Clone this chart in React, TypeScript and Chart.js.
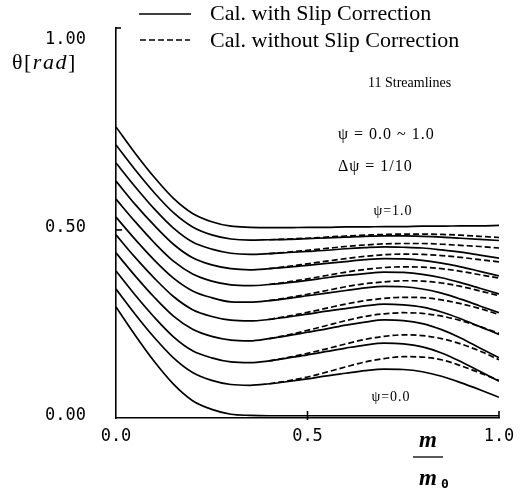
import { useEffect, useRef } from "react";
import { Chart, registerables } from "chart.js";

Chart.register(...registerables);

// Normalised mass coordinate m/m0 along the channel
const MASS_RATIO = [
  0, 0.05, 0.1, 0.15, 0.2, 0.25, 0.3, 0.35, 0.4, 0.45, 0.5, 0.55, 0.6, 0.65, 0.7, 0.75, 0.8, 0.85, 0.9,
  0.95, 1.0,
];

// Flow angle θ [rad] per streamline, calculated with slip correction
const THETA_SLIP_PSI_00 = [0.295, 0.22, 0.15, 0.09, 0.046, 0.023, 0.01, 0.007, 0.006, 0.006, 0.006, 0.006, 0.006, 0.006, 0.006, 0.006, 0.006, 0.006, 0.006, 0.006, 0.006];
const THETA_SLIP_PSI_01 = [0.343, 0.276, 0.214, 0.16, 0.121, 0.1, 0.089, 0.087, 0.091, 0.097, 0.104, 0.112, 0.119, 0.126, 0.13, 0.129, 0.123, 0.111, 0.094, 0.075, 0.055];
const THETA_SLIP_PSI_02 = [0.391, 0.327, 0.268, 0.216, 0.179, 0.16, 0.149, 0.147, 0.152, 0.16, 0.168, 0.177, 0.186, 0.194, 0.199, 0.197, 0.189, 0.173, 0.15, 0.124, 0.098];
const THETA_SLIP_PSI_03 = [0.439, 0.378, 0.321, 0.271, 0.236, 0.217, 0.207, 0.205, 0.211, 0.219, 0.228, 0.237, 0.247, 0.255, 0.261, 0.259, 0.251, 0.235, 0.213, 0.186, 0.16];
const THETA_SLIP_PSI_04 = [0.487, 0.427, 0.372, 0.323, 0.288, 0.27, 0.26, 0.258, 0.262, 0.269, 0.276, 0.284, 0.291, 0.298, 0.303, 0.301, 0.295, 0.282, 0.264, 0.243, 0.222];
const THETA_SLIP_PSI_05 = [0.534, 0.475, 0.42, 0.372, 0.338, 0.32, 0.309, 0.308, 0.312, 0.318, 0.325, 0.332, 0.339, 0.346, 0.35, 0.349, 0.343, 0.332, 0.316, 0.298, 0.28];
const THETA_SLIP_PSI_06 = [0.582, 0.522, 0.466, 0.417, 0.383, 0.364, 0.354, 0.352, 0.355, 0.36, 0.366, 0.373, 0.379, 0.384, 0.388, 0.387, 0.382, 0.373, 0.36, 0.345, 0.33];
const THETA_SLIP_PSI_07 = [0.63, 0.568, 0.512, 0.462, 0.426, 0.407, 0.397, 0.394, 0.397, 0.401, 0.406, 0.411, 0.416, 0.421, 0.424, 0.423, 0.419, 0.412, 0.402, 0.39, 0.378];
const THETA_SLIP_PSI_08 = [0.678, 0.615, 0.556, 0.505, 0.468, 0.449, 0.438, 0.435, 0.437, 0.44, 0.443, 0.446, 0.45, 0.453, 0.455, 0.454, 0.452, 0.447, 0.441, 0.433, 0.425];
const THETA_SLIP_PSI_09 = [0.726, 0.66, 0.599, 0.546, 0.508, 0.487, 0.476, 0.473, 0.474, 0.475, 0.477, 0.479, 0.481, 0.483, 0.484, 0.484, 0.483, 0.481, 0.478, 0.475, 0.472];
const THETA_SLIP_PSI_10 = [0.774, 0.704, 0.64, 0.584, 0.544, 0.522, 0.51, 0.507, 0.506, 0.506, 0.507, 0.507, 0.508, 0.508, 0.509, 0.509, 0.51, 0.51, 0.511, 0.511, 0.512];

// Without slip correction the curves separate from m/m0 ≈ 0.4 onwards
const MASS_RATIO_NO_SLIP = [0.4, 0.45, 0.5, 0.55, 0.6, 0.65, 0.7, 0.75, 0.8, 0.85, 0.9, 0.95, 1.0];
const THETA_NO_SLIP_PSI_01 = [0.091, 0.099, 0.109, 0.122, 0.136, 0.149, 0.158, 0.163, 0.162, 0.155, 0.139, 0.12, 0.1];
const THETA_NO_SLIP_PSI_02 = [0.152, 0.161, 0.172, 0.184, 0.197, 0.209, 0.217, 0.221, 0.219, 0.211, 0.197, 0.178, 0.155];
const THETA_NO_SLIP_PSI_03 = [0.211, 0.221, 0.233, 0.246, 0.259, 0.27, 0.277, 0.28, 0.278, 0.271, 0.259, 0.243, 0.225];
const THETA_NO_SLIP_PSI_04 = [0.262, 0.271, 0.281, 0.292, 0.303, 0.312, 0.318, 0.321, 0.32, 0.314, 0.304, 0.291, 0.275];
const THETA_NO_SLIP_PSI_05 = [0.312, 0.32, 0.329, 0.339, 0.349, 0.357, 0.362, 0.365, 0.364, 0.359, 0.35, 0.338, 0.325];
const THETA_NO_SLIP_PSI_06 = [0.355, 0.362, 0.37, 0.379, 0.388, 0.395, 0.4, 0.402, 0.401, 0.397, 0.39, 0.381, 0.372];
const THETA_NO_SLIP_PSI_07 = [0.397, 0.403, 0.41, 0.417, 0.424, 0.43, 0.434, 0.436, 0.435, 0.432, 0.427, 0.421, 0.415];
const THETA_NO_SLIP_PSI_08 = [0.437, 0.441, 0.446, 0.451, 0.456, 0.46, 0.463, 0.464, 0.464, 0.462, 0.459, 0.456, 0.452];
const THETA_NO_SLIP_PSI_09 = [0.474, 0.476, 0.478, 0.481, 0.484, 0.486, 0.488, 0.489, 0.489, 0.488, 0.486, 0.483, 0.48];

const SLIP_SERIES = [
  THETA_SLIP_PSI_00, THETA_SLIP_PSI_01, THETA_SLIP_PSI_02, THETA_SLIP_PSI_03, THETA_SLIP_PSI_04,
  THETA_SLIP_PSI_05, THETA_SLIP_PSI_06, THETA_SLIP_PSI_07, THETA_SLIP_PSI_08, THETA_SLIP_PSI_09,
  THETA_SLIP_PSI_10,
];
const NO_SLIP_SERIES = [
  THETA_NO_SLIP_PSI_01, THETA_NO_SLIP_PSI_02, THETA_NO_SLIP_PSI_03, THETA_NO_SLIP_PSI_04,
  THETA_NO_SLIP_PSI_05, THETA_NO_SLIP_PSI_06, THETA_NO_SLIP_PSI_07, THETA_NO_SLIP_PSI_08,
  THETA_NO_SLIP_PSI_09,
];

const X_TICKS = [0, 0.5, 1.0];
const Y_TICKS = [0, 0.5, 1.0];
const Y_AXIS_TOP = 1.037;

const LEGEND_SLIP = "Cal. with Slip Correction";
const LEGEND_NO_SLIP = "Cal. without Slip Correction";
const NOTE_COUNT = "11 Streamlines";
const NOTE_RANGE = "ψ = 0.0 ~ 1.0";
const NOTE_STEP = "Δψ = 1/10";
const LABEL_TOP = "ψ=1.0";
const LABEL_BOTTOM = "ψ=0.0";

const INK = "#000";
const SERIF = "'Liberation Serif', 'Times New Roman', serif";
const MONO = "'DejaVu Sans Mono', monospace";
const DASH = [6, 3];

function segment(ctx: CanvasRenderingContext2D, x1: number, y1: number, x2: number, y2: number) {
  ctx.beginPath();
  ctx.moveTo(x1, y1);
  ctx.lineTo(x2, y2);
  ctx.stroke();
}

function spaced(ctx: any, px: number) {
  ctx.letterSpacing = `${px}px`;
}

const decorations = {
  id: "decorations",
  afterDraw(chart: any) {
    const { ctx, chartArea, scales } = chart;
    const xs = scales.x;
    const ys = scales.y;
    ctx.save();
    ctx.strokeStyle = INK;
    ctx.fillStyle = INK;
    ctx.lineWidth = 1.6;

    // inward tick marks
    const yHalf = ys.getPixelForValue(0.5);
    segment(ctx, chartArea.left, yHalf, chartArea.left + 6, yHalf);
    segment(ctx, chartArea.left, chartArea.top, chartArea.left + 5, chartArea.top);
    const xHalf = xs.getPixelForValue(0.5);
    segment(ctx, xHalf, chartArea.bottom + 2, xHalf, chartArea.bottom - 7);
    const xEnd = xs.getPixelForValue(1);
    segment(ctx, xEnd, chartArea.bottom, xEnd, chartArea.bottom - 7);

    // legend
    ctx.lineWidth = 1.5;
    segment(ctx, 139, 14, 191, 14);
    ctx.setLineDash([6, 3]);
    segment(ctx, 140, 40, 190, 40);
    ctx.setLineDash([]);
    ctx.textBaseline = "middle";
    ctx.textAlign = "left";
    ctx.font = `22px ${SERIF}`;
    ctx.fillText(LEGEND_SLIP, 210, 14);
    ctx.fillText(LEGEND_NO_SLIP, 210, 41);

    // y-axis title θ[rad]
    spaced(ctx, 1.5);
    ctx.font = `22px ${SERIF}`;
    let tx = 12;
    ctx.fillText("θ[", tx, 63);
    tx += ctx.measureText("θ[").width;
    ctx.font = `italic 22px ${SERIF}`;
    ctx.fillText("rad", tx, 63);
    tx += ctx.measureText("rad").width;
    ctx.font = `22px ${SERIF}`;
    ctx.fillText("]", tx, 63);
    spaced(ctx, 0);

    // x-axis title m / m0
    ctx.textAlign = "center";
    ctx.font = `italic bold 23px ${SERIF}`;
    ctx.fillText("m", 428, 441);
    ctx.lineWidth = 1.3;
    segment(ctx, 413, 457, 443, 457);
    ctx.fillText("m", 428, 479);
    ctx.font = `bold 13px ${MONO}`;
    ctx.fillText("0", 445, 485);

    // annotations
    ctx.textAlign = "left";
    ctx.font = `14px ${SERIF}`;
    ctx.fillText(NOTE_COUNT, 368, 83);
    spaced(ctx, 1);
    ctx.font = `16px ${SERIF}`;
    ctx.fillText(NOTE_RANGE, 338, 135);
    ctx.fillText(NOTE_STEP, 338, 167);
    ctx.textAlign = "center";
    ctx.font = `14px ${SERIF}`;
    ctx.fillText(LABEL_TOP, 393, 211);
    ctx.fillText(LABEL_BOTTOM, 391, 397);
    spaced(ctx, 0);
    ctx.restore();
  },
};

export default function App() {
  const canvasRef = useRef<HTMLCanvasElement | null>(null);

  useEffect(() => {
    const canvas = canvasRef.current;
    if (!canvas) return;

    const solid = SLIP_SERIES.map((series, k) => ({
      label: `ψ=${(k / 10).toFixed(1)} slip`,
      data: series.map((v, i) => ({ x: MASS_RATIO[i], y: v })),
      borderColor: INK,
      borderWidth: 1.7,
      pointRadius: 0,
      fill: false,
      cubicInterpolationMode: "monotone" as const,
    }));
    const dashed = NO_SLIP_SERIES.map((series, k) => ({
      label: `ψ=${((k + 1) / 10).toFixed(1)} no slip`,
      data: series.map((v, i) => ({ x: MASS_RATIO_NO_SLIP[i], y: v })),
      borderColor: INK,
      borderWidth: 1.7,
      borderDash: DASH,
      pointRadius: 0,
      fill: false,
      cubicInterpolationMode: "monotone" as const,
    }));

    const chart = new Chart(canvas, {
      type: "line",
      data: { datasets: [...solid, ...dashed] },
      options: {
        animation: false,
        responsive: true,
        maintainAspectRatio: false,
        layout: { padding: { top: 28, right: 29, left: 0, bottom: 0 } },
        plugins: { legend: { display: false }, tooltip: { enabled: false } },
        scales: {
          x: {
            type: "linear",
            min: 0,
            max: 1,
            afterFit: (s: any) => {
              s.height = 73;
              s.paddingLeft = 0;
              s.paddingRight = 0;
            },
            afterBuildTicks: (s: any) => {
              s.ticks = X_TICKS.map((v) => ({ value: v }));
            },
            grid: { display: false, drawTicks: false },
            border: { display: true, color: INK, width: 1.6 },
            ticks: {
              color: INK,
              font: { family: MONO, size: 17 },
              padding: 8,
              maxRotation: 0,
              autoSkip: false,
              callback: (v: any) => Number(v).toFixed(1),
            },
          },
          y: {
            type: "linear",
            min: 0,
            max: Y_AXIS_TOP,
            afterFit: (s: any) => {
              s.width = 116;
              s.paddingTop = 0;
              s.paddingBottom = 0;
            },
            afterBuildTicks: (s: any) => {
              s.ticks = Y_TICKS.map((v) => ({ value: v }));
            },
            grid: { display: false, drawTicks: false },
            border: { display: true, color: INK, width: 1.6 },
            ticks: {
              color: INK,
              font: { family: MONO, size: 17 },
              padding: 30,
              labelOffset: -2,
              autoSkip: false,
              callback: (v: any) => Number(v).toFixed(2),
            },
          },
        },
      },
      plugins: [decorations],
    });

    return () => chart.destroy();
  }, []);

  return (
    <div style={{ position: "fixed", left: 0, top: 0, width: 528, height: 491, background: "#fff" }}>
      <canvas ref={canvasRef} />
    </div>
  );
}
